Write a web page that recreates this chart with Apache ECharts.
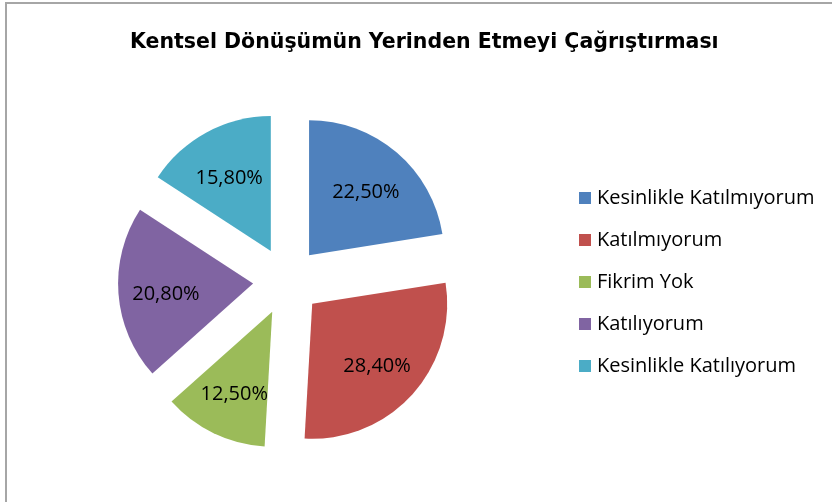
<!DOCTYPE html>
<html>
<head>
<meta charset="utf-8">
<script src="https://cdn.jsdelivr.net/npm/echarts@6/dist/echarts.min.js"></script>
<style>
  html, body { margin: 0; padding: 0; background: #fff; }
  #chart { width: 832px; height: 502px; }
</style>
</head>
<body>
<div id="chart"></div>
<script>
const categories = ['Kesinlikle Katılmıyorum', 'Katılmıyorum', 'Fikrim Yok', 'Katılıyorum', 'Kesinlikle Katılıyorum'];
const values = [22.5, 28.4, 12.5, 20.8, 15.8];
const colors = ['#4F81BD', '#C0504D', '#9BBB59', '#8064A2', '#4BACC6'];

const font = '"Open Sans", "Noto Sans", sans-serif';
const pieCenter = [287, 281];

const chart = echarts.init(document.getElementById('chart'));
const option = {
  animation: false,
  color: colors,
  title: {
    text: 'Kentsel Dönüşümün Yerinden Etmeyi Çağrıştırması',
    left: 125,
    top: 27,
    textStyle: {
      color: '#000',
      fontSize: 20.5,
      fontWeight: 'bold',
      fontFamily: '"DejaVu Sans", sans-serif'
    }
  },
  graphic: [{
    type: 'rect',
    shape: { x: 6, y: 3, width: 900, height: 600 },
    style: { fill: 'none', stroke: '#a6a6a6', lineWidth: 2 },
    silent: true
  }],
  legend: {
    orient: 'vertical',
    left: 574,
    top: 183,
    itemWidth: 12,
    itemHeight: 12,
    itemGap: 22,
    icon: 'rect',
    selectedMode: false,
    textStyle: { color: '#000', fontSize: 20, lineHeight: 20, fontFamily: font, padding: [0, 0, 0, 1] },
    data: categories
  },
  series: [{
    type: 'pie',
    center: pieCenter,
    radius: 135,
    startAngle: 90,
    selectedMode: 'multiple',
    selectedOffset: 34,
    label: {
      show: true,
      position: 'inside',
      color: '#000',
      fontSize: 20,
      fontFamily: font,
      formatter: p => p.value.toFixed(2).replace('.', ',') + '%'
    },
    // push the inside labels a bit further out, like the original
    labelLayout: p => {
      const r = p.labelRect;
      const lx = r.x + r.width / 2, ly = r.y + r.height / 2;
      return {
        dx: (lx - pieCenter[0]) * 0.24,
        dy: (ly - pieCenter[1]) * 0.24 + 4
      };
    },
    labelLine: { show: false },
    emphasis: { disabled: true },
    data: categories.map((name, i) => ({ name: name, value: values[i], selected: true }))
  }]
};
chart.setOption(option);
</script>
</body>
</html>
